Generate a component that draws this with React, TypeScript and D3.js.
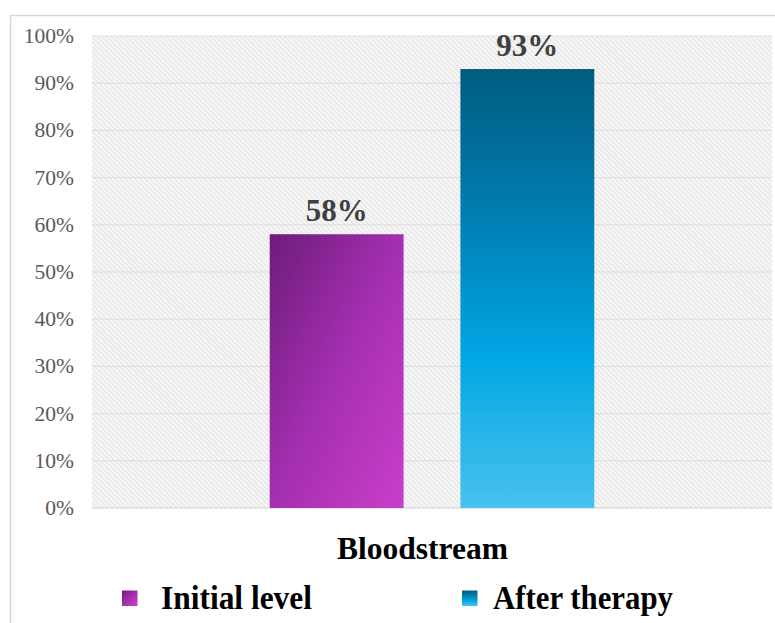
import { useEffect, useRef } from "react";
import * as d3 from "d3";

const categories = ["Bloodstream"];
const series = ["Initial level", "After therapy"];
const values = [0.58, 0.93];
const yTicks = [0, 0.1, 0.2, 0.3, 0.4, 0.5, 0.6, 0.7, 0.8, 0.9, 1];
const gradientIds = ["gradPurple", "gradBlue"];

const W = 775;
const H = 623;
const FONT = "'Liberation Serif', 'Times New Roman', Times, serif";

export default function App() {
  const svgRef = useRef<SVGSVGElement>(null);

  useEffect(() => {
    const svgEl = svgRef.current;
    if (!svgEl) return;
    const svg = d3.select(svgEl);
    svg.selectAll("*").remove();

    const defs = svg.append("defs");

    // hatched plot background
    const pat = defs
      .append("pattern")
      .attr("id", "hatch")
      .attr("patternUnits", "userSpaceOnUse")
      .attr("width", 3.5)
      .attr("height", 3.5)
      .attr("patternTransform", "rotate(-45)");
    pat.append("rect").attr("width", 3.5).attr("height", 3.5).attr("fill", "#f6f6f6");
    pat.append("rect").attr("width", 1).attr("height", 3.5).attr("fill", "#e2e2e2");

    const purple = defs
      .append("linearGradient")
      .attr("id", "gradPurple")
      .attr("x1", 0)
      .attr("y1", 0)
      .attr("x2", 1)
      .attr("y2", 1);
    purple.append("stop").attr("offset", "0%").attr("stop-color", "#6d1c7a");
    purple.append("stop").attr("offset", "50%").attr("stop-color", "#a42fb0");
    purple.append("stop").attr("offset", "100%").attr("stop-color", "#ca3ecb");

    const blue = defs
      .append("linearGradient")
      .attr("id", "gradBlue")
      .attr("x1", 0)
      .attr("y1", 0)
      .attr("x2", 0)
      .attr("y2", 1);
    blue.append("stop").attr("offset", "0%").attr("stop-color", "#005c80");
    blue.append("stop").attr("offset", "35%").attr("stop-color", "#0080b4");
    blue.append("stop").attr("offset", "65%").attr("stop-color", "#00a6e2");
    blue.append("stop").attr("offset", "100%").attr("stop-color", "#48c2ef");

    // outer frame
    svg
      .append("rect")
      .attr("x", 10.5)
      .attr("y", 15.5)
      .attr("width", W + 20)
      .attr("height", H + 20)
      .attr("fill", "#fff")
      .attr("stroke", "#d9d9d9")
      .attr("stroke-width", 1.5);

    const plot = { left: 92, right: 772, top: 36, bottom: 508 };

    const y = d3.scaleLinear().domain([0, 1]).range([plot.bottom, plot.top]);
    const x0 = d3.scaleBand().domain(categories).range([plot.left, plot.right]);
    const x1 = d3
      .scaleBand()
      .domain(series)
      .range([0, x0.bandwidth()])
      .paddingInner(0.298)
      .paddingOuter(0.932);

    svg
      .append("rect")
      .attr("x", plot.left)
      .attr("y", plot.top)
      .attr("width", plot.right - plot.left)
      .attr("height", plot.bottom - plot.top)
      .attr("fill", "url(#hatch)");

    svg
      .append("g")
      .selectAll("line")
      .data(yTicks)
      .join("line")
      .attr("x1", plot.left)
      .attr("x2", plot.right)
      .attr("y1", (d) => y(d))
      .attr("y2", (d) => y(d))
      .attr("stroke", (d) => (d === 0 ? "#d0d0d0" : "#dddddd"))
      .attr("stroke-width", 1);

    svg
      .append("g")
      .selectAll("text")
      .data(yTicks)
      .join("text")
      .attr("x", 74)
      .attr("y", (d) => y(d) + 7)
      .attr("text-anchor", "end")
      .attr("font-family", FONT)
      .attr("font-size", 21.5)
      .attr("fill", "#595959")
      .text((d) => d3.format(".0%")(d));

    const cat = categories[0];
    const bars = series.map((s, i) => ({ s, v: values[i], g: gradientIds[i] }));

    svg
      .append("g")
      .selectAll("rect")
      .data(bars)
      .join("rect")
      .attr("x", (d) => (x0(cat) as number) + (x1(d.s) as number))
      .attr("y", (d) => y(d.v))
      .attr("width", x1.bandwidth())
      .attr("height", (d) => y(0) - y(d.v))
      .attr("fill", (d) => `url(#${d.g})`);

    svg
      .append("g")
      .selectAll("text")
      .data(bars)
      .join("text")
      .attr("x", (d) => (x0(cat) as number) + (x1(d.s) as number) + x1.bandwidth() / 2)
      .attr("y", (d) => y(d.v) - 13.5)
      .attr("text-anchor", "middle")
      .attr("font-family", FONT)
      .attr("font-weight", "bold")
      .attr("font-size", 31)
      .attr("fill", "#404040")
      .text((d) => d3.format(".0%")(d.v));

    svg
      .append("text")
      .attr("x", 337)
      .attr("y", 559)
      .attr("font-family", FONT)
      .attr("font-weight", "bold")
      .attr("font-size", 32)
      .attr("textLength", 171)
      .attr("lengthAdjust", "spacingAndGlyphs")
      .attr("fill", "#000")
      .text(cat);

    const markerX = [122, 462];
    const textX = [161, 493];
    const legendTextLen = [151, 180];
    const lg = svg.append("g").selectAll("g").data(bars).join("g");
    lg.append("rect")
      .attr("x", (_d, i) => markerX[i])
      .attr("y", 590.5)
      .attr("width", 15.5)
      .attr("height", 15.5)
      .attr("fill", (d) => `url(#${d.g})`);
    lg.append("text")
      .attr("x", (_d, i) => textX[i])
      .attr("y", 609)
      .attr("font-family", FONT)
      .attr("font-weight", "bold")
      .attr("font-size", 33)
      .attr("textLength", (_d, i) => legendTextLen[i])
      .attr("lengthAdjust", "spacingAndGlyphs")
      .attr("fill", "#000")
      .text((d) => d.s);
  }, []);

  return (
    <svg
      ref={svgRef}
      width={W}
      height={H}
      style={{ position: "absolute", left: 0, top: 0, background: "#fff" }}
    />
  );
}
